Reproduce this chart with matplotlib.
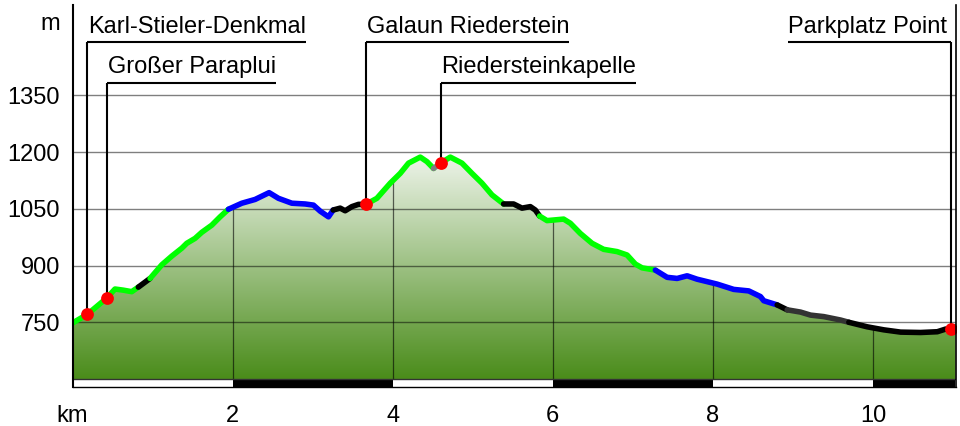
import numpy as np
import matplotlib
matplotlib.use('Agg')
import matplotlib.pyplot as plt
from matplotlib.colors import LinearSegmentedColormap
from matplotlib.patches import Polygon, Rectangle
import matplotlib.transforms as mtransforms

plt.rcParams['font.family'] = ['Liberation Sans', 'DejaVu Sans']

# ---------------- data ----------------
dist_km = [0.0, 0.185, 0.4275, 0.531, 0.635, 0.74, 0.8225, 0.969, 1.115, 1.24,
           1.365, 1.4275, 1.531, 1.615, 1.74, 1.844, 1.9475, 2.115, 2.281, 2.456,
           2.5725, 2.74, 2.906, 3.01, 3.094, 3.1975, 3.256, 3.344, 3.406, 3.49,
           3.5725, 3.665, 3.8025, 3.969, 4.094, 4.1975, 4.344, 4.4275, 4.51, 4.5975,
           4.719, 4.865, 4.99, 5.115, 5.24, 5.385, 5.51, 5.615, 5.719, 5.781,
           5.835, 5.9275, 6.135, 6.219, 6.344, 6.49, 6.635, 6.8025, 6.9275, 7.031,
           7.115, 7.281, 7.4275, 7.5525, 7.6775, 7.8025, 8.0525, 8.26, 8.4475, 8.594,
           8.635, 8.8025, 8.9275, 9.094, 9.219, 9.385, 9.594, 9.6975, 9.9275, 10.135,
           10.344, 10.594, 10.8025, 10.906, 10.969, 11.03]
elev_m = [748, 771, 814, 838, 835, 831, 843, 866, 902, 925,
          946, 959, 972, 988, 1007, 1029, 1049, 1065, 1075, 1093,
          1078, 1065, 1063, 1060, 1044, 1029, 1047, 1052, 1045, 1056,
          1062, 1062, 1078, 1118, 1144, 1171, 1187, 1175, 1157, 1171,
          1187, 1171, 1144, 1118, 1087, 1063, 1063, 1052, 1056, 1047,
          1031, 1019, 1023, 1012, 985, 959, 943, 937, 928, 904,
          894, 888, 869, 866, 873, 864, 851, 837, 833, 818,
          807, 796, 783, 777, 769, 765, 756, 750, 738, 730,
          724, 723, 725, 732, 732, 738]

# track colour segments: start index of each segment
seg_start = [0, 6, 7, 16, 26, 31, 38, 39, 45, 50, 61, 71, 72, 77, 84]
seg_colors = ['#00ff00', '#000000', '#00ff00', '#0000ff', '#000000', '#00ff00',
              '#808080', '#00ff00', '#000000', '#00ff00', '#0000ff', '#000000',
              '#333333', '#000000', '#00ff00']

poi_names = ['Karl-Stieler-Denkmal', 'Großer Paraplui', 'Galaun Riederstein',
             'Riedersteinkapelle', 'Parkplatz Point']
poi_km = [0.185, 0.4275, 3.665, 4.5975, 10.969]
poi_elev = [771, 814, 1062, 1171, 732]
poi_row = [0, 1, 0, 1, 0]
poi_align = ['left', 'left', 'left', 'left', 'right']

y_ticks = [750, 900, 1050, 1200, 1350]
x_ticks = [0, 2, 4, 6, 8, 10]
x_labels = ['km', '2', '4', '6', '8', '10']

# ---------------- figure ----------------
W, H = 960, 426
fig = plt.figure(figsize=(W / 100, H / 100), dpi=100)
ax = fig.add_axes([72.5 / W, (H - 387) / H, (955.5 - 72.5) / W, (387 - 5) / H])

x = np.array(dist_km)
y = np.array(elev_m)
xmax = x[-1]
base = 600
ybot = 578.8
ytop = 1589.4
ax.set_xlim(0, xmax)
ax.set_ylim(ybot, ytop)

# gradient fill under profile
cmap = LinearSegmentedColormap.from_list('g', ['#4a8c1a', '#eef4ea'])
grad = np.linspace(0, 1, 256).reshape(-1, 1)
grad_top = 1190
im = ax.imshow(grad, cmap=cmap, origin='lower', aspect='auto',
               extent=[0, xmax, base, grad_top], zorder=1)
verts = list(zip(x, y)) + [(xmax, base), (0, base)]
poly = Polygon(verts, closed=True, facecolor='none', edgecolor='none')
ax.add_patch(poly)
im.set_clip_path(poly)

# horizontal gridlines
for t in y_ticks:
    ax.axhline(t, color='black', alpha=0.5, lw=1.0, zorder=2)

# vertical gridlines inside the fill
for t in x_ticks[1:]:
    ax.vlines(t, base, np.interp(t, x, y), color='black', alpha=0.6, lw=0.9, zorder=2)

# distance strip
edges = [0, 2, 4, 6, 8, 10, xmax]
for i in range(len(edges) - 1):
    fc = 'white' if i % 2 == 0 else 'black'
    ax.add_patch(Rectangle((edges[i], ybot), edges[i + 1] - edges[i], base - ybot,
                           facecolor=fc, edgecolor='none', zorder=2))
ax.axhline(base, color='#333333', lw=1.0, zorder=2.5)

# profile line
ends = seg_start[1:] + [len(x) - 1]
for s, e, c in zip(seg_start, ends, seg_colors):
    ax.plot(x[s:e + 1], y[s:e + 1], color=c, lw=4.0, solid_capstyle='round',
            solid_joinstyle='round', zorder=4)

# points of interest
row_y = [1490.7, 1383.9]
fig.canvas.draw()
renderer = fig.canvas.get_renderer()
for name, pk, pe, r, al in zip(poi_names, poi_km, poi_elev, poi_row, poi_align):
    uy = row_y[r]
    dx = 1.0 if al == 'left' else -4
    tr = mtransforms.offset_copy(ax.transData, fig=fig, x=dx, y=9.3, units='dots')
    t = ax.text(pk, uy, name, transform=tr, ha=al, va='baseline', fontsize=17,
                color='black', zorder=6)
    bb = t.get_window_extent(renderer)
    inv = ax.transData.inverted()
    xl = inv.transform((bb.x0, 0))[0]
    xr = inv.transform((bb.x1, 0))[0]
    if al == 'left':
        ax.plot([pk, xr], [uy, uy], color='black', lw=1.5, zorder=5,
                solid_capstyle='butt', clip_on=False)
    else:
        ax.plot([xl, pk], [uy, uy], color='black', lw=1.5, zorder=5,
                solid_capstyle='butt', clip_on=False)
    ax.plot([pk, pk], [pe, uy], color='black', lw=1.5, zorder=5,
            solid_capstyle='butt')
ax.plot(poi_km, poi_elev, 'o', color='#ff0000', markersize=9.2,
        markeredgewidth=0, zorder=7)

# axes styling
ax.set_yticks(y_ticks + [1547])
ax.set_yticklabels([str(v) for v in y_ticks] + ['m'])
ax.set_xticks(x_ticks)
ax.set_xticklabels(x_labels)
ax.tick_params(axis='y', length=0, pad=9, labelsize=17)
ax.tick_params(axis='x', length=0, pad=13, labelsize=17)
ax.spines['top'].set_visible(False)
ax.spines['left'].set_linewidth(1.5)
ax.spines['right'].set_linewidth(1.2)
ax.spines['bottom'].set_linewidth(1.0)
for sp in ['left', 'right', 'bottom']:
    ax.spines[sp].set_zorder(8)

fig.savefig('out.png', dpi=100)
